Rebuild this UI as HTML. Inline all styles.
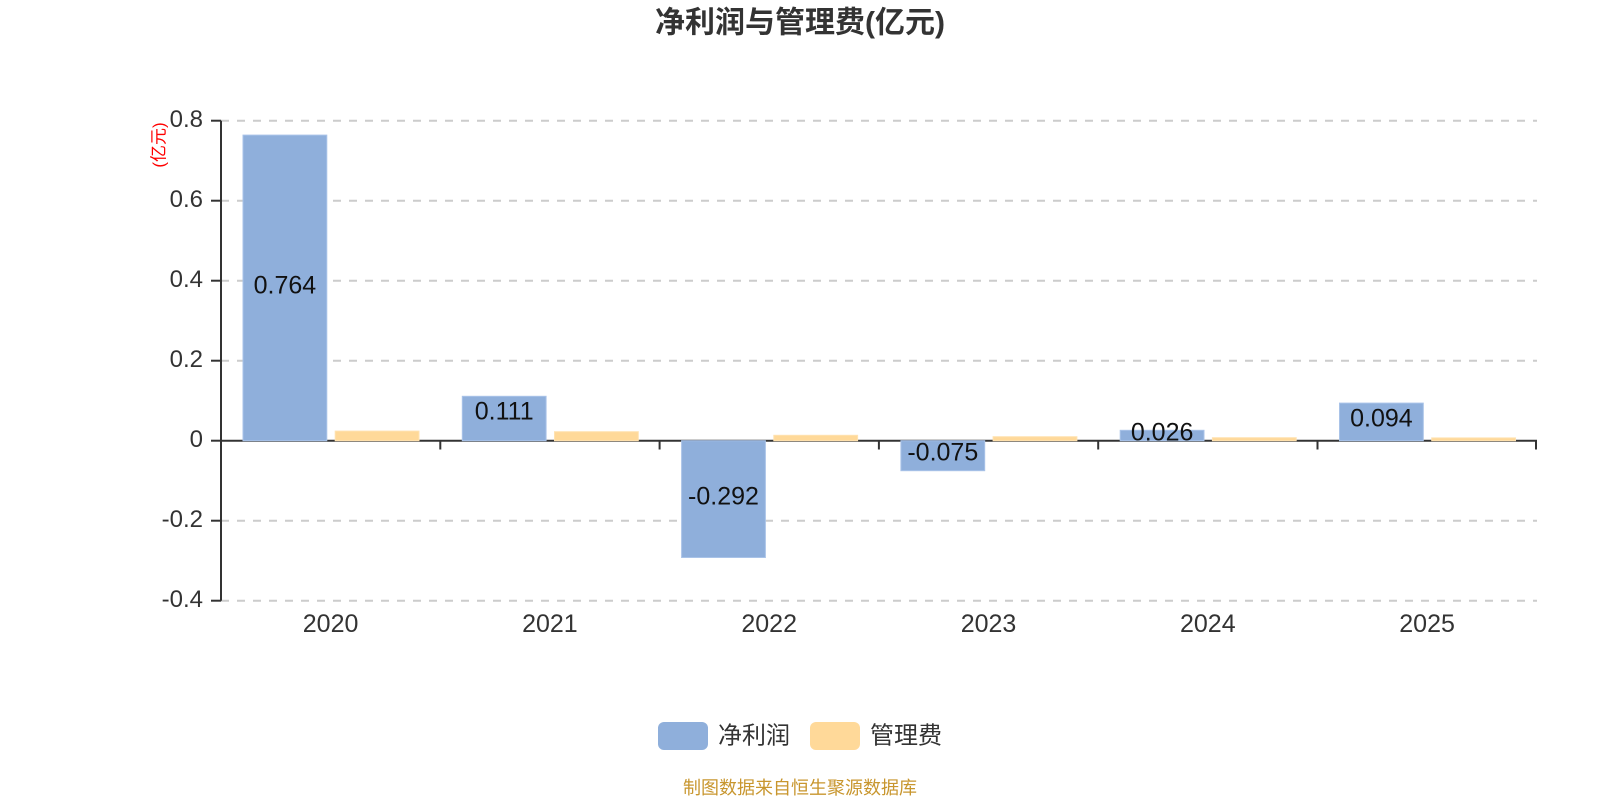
<!DOCTYPE html>
<html>
<head>
<meta charset="utf-8">
<style>
  html,body{margin:0;padding:0;background:#fff;}
  svg{display:block;}
  text{font-family:"Liberation Sans","Noto Sans CJK SC",sans-serif;}
</style>
</head>
<body>
<svg width="1600" height="800" viewBox="0 0 1600 800" xmlns="http://www.w3.org/2000/svg">
  <rect width="1600" height="800" fill="#fff"/>
  <!-- title -->
  <text x="800" y="23" text-anchor="middle" dominant-baseline="central" font-size="30" font-weight="bold" fill="#333">净利润与管理费(亿元)</text>

  <!-- grid lines -->
  <g stroke="#cccccc" stroke-width="2" stroke-dasharray="8,8">
    <line x1="221" y1="120.7" x2="1537" y2="120.7"/>
    <line x1="221" y1="200.7" x2="1537" y2="200.7"/>
    <line x1="221" y1="280.7" x2="1537" y2="280.7"/>
    <line x1="221" y1="360.7" x2="1537" y2="360.7"/>
    <line x1="221" y1="520.7" x2="1537" y2="520.7"/>
    <line x1="221" y1="600.7" x2="1537" y2="600.7"/>
  </g>

  <!-- y axis -->
  <g stroke="#333" stroke-width="2">
    <line x1="221" y1="120.7" x2="221" y2="600.7"/>
    <line x1="211" y1="120.7" x2="221" y2="120.7"/>
    <line x1="211" y1="200.7" x2="221" y2="200.7"/>
    <line x1="211" y1="280.7" x2="221" y2="280.7"/>
    <line x1="211" y1="360.7" x2="221" y2="360.7"/>
    <line x1="211" y1="440.7" x2="221" y2="440.7"/>
    <line x1="211" y1="520.7" x2="221" y2="520.7"/>
    <line x1="211" y1="600.7" x2="221" y2="600.7"/>
  </g>
  <g font-size="24" fill="#333" text-anchor="end" dominant-baseline="central">
    <text x="203" y="119.7">0.8</text>
    <text x="203" y="199.7">0.6</text>
    <text x="203" y="279.7">0.4</text>
    <text x="203" y="359.7">0.2</text>
    <text x="203" y="439.7">0</text>
    <text x="203" y="519.7">-0.2</text>
    <text x="203" y="599.7">-0.4</text>
  </g>
  <text transform="translate(159,145) rotate(-90)" text-anchor="middle" dominant-baseline="central" font-size="17" fill="#ff0000">(亿元)</text>

  <!-- x axis -->
  <g stroke="#333" stroke-width="2">
    <line x1="221" y1="440.7" x2="1537" y2="440.7"/>
    <line x1="221" y1="440.7" x2="221" y2="449.5"/>
    <line x1="440.3" y1="440.7" x2="440.3" y2="449.5"/>
    <line x1="659.6" y1="440.7" x2="659.6" y2="449.5"/>
    <line x1="878.9" y1="440.7" x2="878.9" y2="449.5"/>
    <line x1="1098.2" y1="440.7" x2="1098.2" y2="449.5"/>
    <line x1="1317.5" y1="440.7" x2="1317.5" y2="449.5"/>
    <line x1="1536" y1="440.7" x2="1536" y2="449.5"/>
  </g>
  <g font-size="25" fill="#333" text-anchor="middle" dominant-baseline="central">
    <text x="330.6" y="624">2020</text>
    <text x="549.9" y="624">2021</text>
    <text x="769.2" y="624">2022</text>
    <text x="988.5" y="624">2023</text>
    <text x="1207.8" y="624">2024</text>
    <text x="1427.1" y="624">2025</text>
  </g>

  <!-- blue bars -->
  <g fill="#8fafdb" stroke="#a9c3e8" stroke-width="1">
    <rect x="243" y="135.1" width="83.8" height="305.6"/>
    <rect x="462.3" y="396.3" width="83.8" height="44.4"/>
    <rect x="681.6" y="440.7" width="83.8" height="116.8"/>
    <rect x="900.9" y="440.7" width="83.8" height="30"/>
    <rect x="1120.2" y="430.3" width="83.8" height="10.4"/>
    <rect x="1339.5" y="403.1" width="83.8" height="37.6"/>
  </g>
  <!-- orange bars -->
  <g fill="#ffd999" stroke="#ffe2b0" stroke-width="1">
    <rect x="335.2" y="431.1" width="83.8" height="9.6"/>
    <rect x="554.5" y="431.7" width="83.8" height="9"/>
    <rect x="773.8" y="435.3" width="83.8" height="5.4"/>
    <rect x="993.1" y="436.7" width="83.8" height="4"/>
    <rect x="1212.4" y="437.7" width="83.8" height="3"/>
    <rect x="1431.7" y="437.9" width="83.8" height="2.8"/>
  </g>

  <!-- value labels -->
  <g font-size="25" fill="#111" text-anchor="middle" dominant-baseline="central">
    <text x="284.9" y="285.5">0.764</text>
    <text x="504.2" y="411.5">0.111</text>
    <text x="723.5" y="496.5">-0.292</text>
    <text x="942.8" y="452.7">-0.075</text>
    <text x="1162.1" y="432.5">0.026</text>
    <text x="1381.4" y="418.5">0.094</text>
  </g>

  <!-- legend -->
  <rect x="658" y="722" width="50" height="28" rx="6" fill="#8fafdb"/>
  <text x="718" y="736" dominant-baseline="central" font-size="24" fill="#333">净利润</text>
  <rect x="810" y="722" width="50" height="28" rx="6" fill="#ffd999"/>
  <text x="870" y="736" dominant-baseline="central" font-size="24" fill="#333">管理费</text>

  <!-- footer -->
  <text x="800" y="788" text-anchor="middle" dominant-baseline="central" font-size="18" fill="#c8962e">制图数据来自恒生聚源数据库</text>
</svg>
</body>
</html>
